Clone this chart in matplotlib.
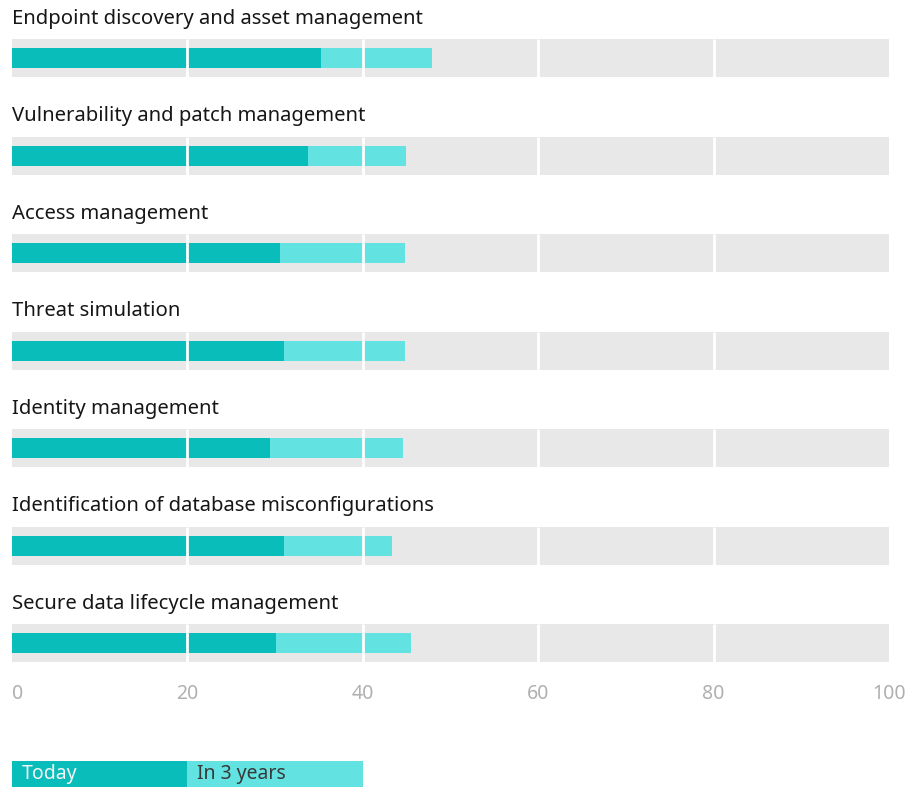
import matplotlib.pyplot as plt

categories = [
    "Endpoint discovery and asset management",
    "Vulnerability and patch management",
    "Access management",
    "Threat simulation",
    "Identity management",
    "Identification of database misconfigurations",
    "Secure data lifecycle management",
]
today = [35.2, 33.8, 30.6, 31.0, 29.4, 31.0, 30.1]
in_3_years = [47.9, 44.9, 44.8, 44.8, 44.6, 43.3, 45.5]
ticks = [0, 20, 40, 60, 80, 100]

DARK = "#08bdba"
LIGHT = "#62e2e1"
GREY = "#e8e8e8"

plt.rcParams["font.family"] = ["Noto Sans", "DejaVu Sans"]

W, H = 915, 787
fig = plt.figure(figsize=(W / 100, H / 100), dpi=100)

# main axes: y in pixel rows (top = 0), x in percent
left = 12 / W
width = 877 / W
bottom_px = 662
ax = fig.add_axes([left, 1 - bottom_px / H, width, bottom_px / H])
ax.set_xlim(0, 100)
ax.set_ylim(bottom_px, 0)

step = 97.5
first_center = 58
band_h = 38
bar_h = 20

for i, name in enumerate(categories):
    yc = first_center + i * step
    ax.barh(yc, 100, height=band_h, color=GREY, zorder=1)
    ax.barh(yc, in_3_years[i], height=bar_h, color=LIGHT, zorder=2)
    ax.barh(yc, today[i], height=bar_h, color=DARK, zorder=3)
    ax.vlines(ticks[1:-1], yc - band_h / 2, yc + band_h / 2, color="white",
              lw=2, zorder=4)
    ax.text(0, yc - 39, name, fontsize=14.6, color="#161616", va="center",
            ha="left")

for s in ax.spines.values():
    s.set_visible(False)
ax.set_yticks([])
ax.set_xticks(ticks)
ax.set_xticklabels([str(t) for t in ticks], fontsize=14, color="#b0b0b0",
                   fontweight="light")
ax.tick_params(axis="x", length=0, pad=16)
ax.get_xticklabels()[0].set_horizontalalignment("left")

# legend
lax = fig.add_axes([left, 0, width, 26 / H])
lax.set_xlim(0, 100)
lax.set_ylim(0, 1)
lax.barh(0.5, 20, height=1, left=0, color=DARK)
lax.barh(0.5, 20, height=1, left=20, color=LIGHT)
lax.text(1.1, 0.5, "Today", fontsize=14, color="#f4f4f4", va="center")
lax.text(21.1, 0.5, "In 3 years", fontsize=14, color="#393939", va="center")
lax.axis("off")

fig.savefig("out.png", dpi=100)
